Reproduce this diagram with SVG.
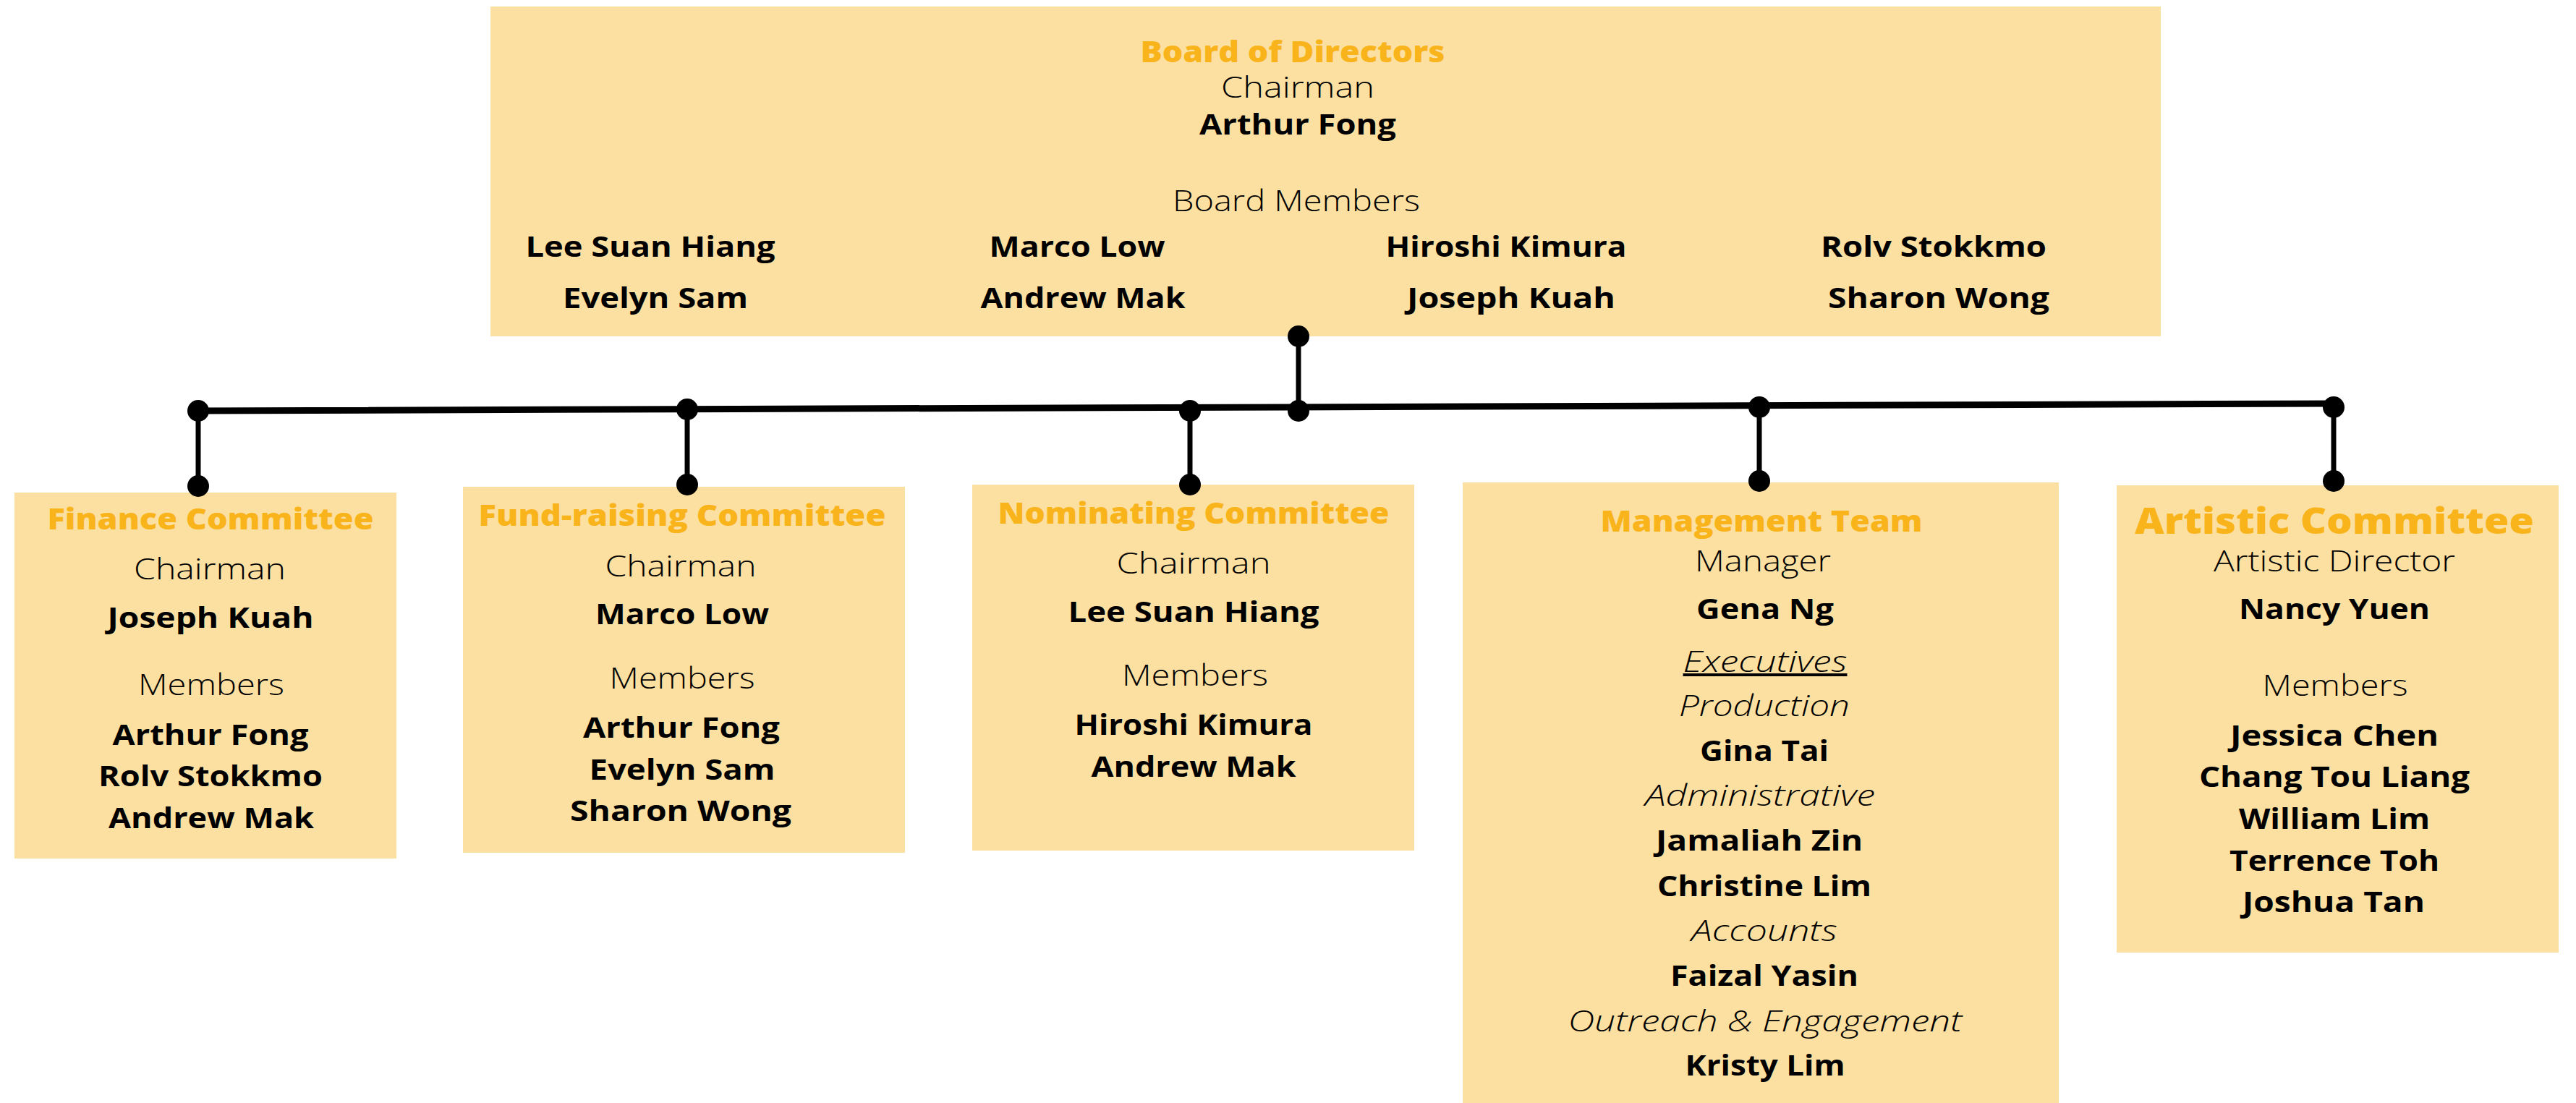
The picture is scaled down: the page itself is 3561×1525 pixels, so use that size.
<svg xmlns="http://www.w3.org/2000/svg" width="3561" height="1525" viewBox="0 0 3561 1525">
<style>
.bg{fill:#ffffff}
.box{fill:#FCE0A1}
text{font-family:"Open Sans","Liberation Sans",sans-serif;text-anchor:middle;font-size:40px;fill:#000}
.h{font-weight:800;fill:#F9B31B}
.h2{font-weight:800;fill:#F9B31B;font-size:49px}
.n{font-weight:700}
.l{font-weight:300}
.i{font-weight:300;font-style:italic}
.u{text-decoration:underline}
.hl{stroke:#000;stroke-width:9;fill:none;stroke-linecap:round}
.vl{stroke:#000;stroke-width:7;fill:none}
.dot{fill:#000}
</style>
<rect class="bg" x="0" y="0" width="3561" height="1525"/>

<g id="connectors">
  <line class="hl" x1="274" y1="568" x2="3226" y2="558"/>
  <line class="vl" x1="1795" y1="465" x2="1795" y2="566"/>
  <line class="vl" x1="274" y1="568" x2="274" y2="672"/>
  <line class="vl" x1="950" y1="566" x2="950" y2="670"/>
  <line class="vl" x1="1645" y1="566" x2="1645" y2="670"/>
  <line class="vl" x1="2432" y1="562" x2="2432" y2="665"/>
  <line class="vl" x1="3226" y1="560" x2="3226" y2="665"/>
</g>

<g id="board">
  <rect class="box" x="678" y="9" width="2309" height="456"/>
  <text class="h" x="1787" y="86" textLength="421" lengthAdjust="spacingAndGlyphs">Board of Directors</text>
  <text class="l" x="1794" y="135" textLength="212" lengthAdjust="spacingAndGlyphs">Chairman</text>
  <text class="n" x="1794" y="186" textLength="272" lengthAdjust="spacingAndGlyphs">Arthur Fong</text>
  <text class="l" x="1792" y="292" textLength="342" lengthAdjust="spacingAndGlyphs">Board Members</text>
  <text class="n" x="899" y="355" textLength="345" lengthAdjust="spacingAndGlyphs">Lee Suan Hiang</text>
  <text class="n" x="1489" y="355" textLength="243" lengthAdjust="spacingAndGlyphs">Marco Low</text>
  <text class="n" x="2082" y="355" textLength="333" lengthAdjust="spacingAndGlyphs">Hiroshi Kimura</text>
  <text class="n" x="2673" y="355" textLength="312" lengthAdjust="spacingAndGlyphs">Rolv Stokkmo</text>
  <text class="n" x="906" y="426" textLength="256" lengthAdjust="spacingAndGlyphs">Evelyn Sam</text>
  <text class="n" x="1497" y="426" textLength="283" lengthAdjust="spacingAndGlyphs">Andrew Mak</text>
  <text class="n" x="2089" y="426" textLength="288" lengthAdjust="spacingAndGlyphs">Joseph Kuah</text>
  <text class="n" x="2680" y="426" textLength="306" lengthAdjust="spacingAndGlyphs">Sharon Wong</text>
</g>

<g id="finance">
  <rect class="box" x="20" y="681" width="528" height="506"/>
  <text class="h" x="291" y="732" textLength="451" lengthAdjust="spacingAndGlyphs">Finance Committee</text>
  <text class="l" x="290" y="801" textLength="210" lengthAdjust="spacingAndGlyphs">Chairman</text>
  <text class="n" x="291" y="868" textLength="285" lengthAdjust="spacingAndGlyphs">Joseph Kuah</text>
  <text class="l" x="292" y="961" textLength="202" lengthAdjust="spacingAndGlyphs">Members</text>
  <text class="n" x="291" y="1030" textLength="271" lengthAdjust="spacingAndGlyphs">Arthur Fong</text>
  <text class="n" x="291" y="1087" textLength="310" lengthAdjust="spacingAndGlyphs">Rolv Stokkmo</text>
  <text class="n" x="292" y="1145" textLength="284" lengthAdjust="spacingAndGlyphs">Andrew Mak</text>
</g>

<g id="fundraising">
  <rect class="box" x="640" y="673" width="611" height="506"/>
  <text class="h" x="943" y="727" textLength="563" lengthAdjust="spacingAndGlyphs">Fund-raising Committee</text>
  <text class="l" x="941" y="797" textLength="209" lengthAdjust="spacingAndGlyphs">Chairman</text>
  <text class="n" x="943" y="863" textLength="240" lengthAdjust="spacingAndGlyphs">Marco Low</text>
  <text class="l" x="943" y="952" textLength="201" lengthAdjust="spacingAndGlyphs">Members</text>
  <text class="n" x="942" y="1020" textLength="272" lengthAdjust="spacingAndGlyphs">Arthur Fong</text>
  <text class="n" x="943" y="1078" textLength="257" lengthAdjust="spacingAndGlyphs">Evelyn Sam</text>
  <text class="n" x="941" y="1135" textLength="306" lengthAdjust="spacingAndGlyphs">Sharon Wong</text>
</g>

<g id="nominating">
  <rect class="box" x="1344" y="670" width="611" height="506"/>
  <text class="h" x="1650" y="724" textLength="541" lengthAdjust="spacingAndGlyphs">Nominating Committee</text>
  <text class="l" x="1650" y="793" textLength="213" lengthAdjust="spacingAndGlyphs">Chairman</text>
  <text class="n" x="1650" y="860" textLength="347" lengthAdjust="spacingAndGlyphs">Lee Suan Hiang</text>
  <text class="l" x="1652" y="948" textLength="202" lengthAdjust="spacingAndGlyphs">Members</text>
  <text class="n" x="1650" y="1016" textLength="329" lengthAdjust="spacingAndGlyphs">Hiroshi Kimura</text>
  <text class="n" x="1650" y="1074" textLength="283" lengthAdjust="spacingAndGlyphs">Andrew Mak</text>
</g>

<g id="management">
  <rect class="box" x="2022" y="667" width="824" height="858"/>
  <text class="h" x="2435" y="735" textLength="445" lengthAdjust="spacingAndGlyphs">Management Team</text>
  <text class="l" x="2437" y="790" textLength="188" lengthAdjust="spacingAndGlyphs">Manager</text>
  <text class="n" x="2440" y="856" textLength="190" lengthAdjust="spacingAndGlyphs">Gena Ng</text>
  <text class="i u" x="2440" y="929" textLength="227" lengthAdjust="spacingAndGlyphs">Executives</text>
  <text class="i" x="2439" y="990" textLength="236" lengthAdjust="spacingAndGlyphs">Production</text>
  <text class="n" x="2439" y="1052" textLength="178" lengthAdjust="spacingAndGlyphs">Gina Tai</text>
  <text class="i" x="2433" y="1114" textLength="318" lengthAdjust="spacingAndGlyphs">Administrative</text>
  <text class="n" x="2432" y="1176" textLength="286" lengthAdjust="spacingAndGlyphs">Jamaliah Zin</text>
  <text class="n" x="2439" y="1239" textLength="296" lengthAdjust="spacingAndGlyphs">Christine Lim</text>
  <text class="i" x="2439" y="1301" textLength="202" lengthAdjust="spacingAndGlyphs">Accounts</text>
  <text class="n" x="2439" y="1363" textLength="260" lengthAdjust="spacingAndGlyphs">Faizal Yasin</text>
  <text class="i" x="2440" y="1426" textLength="545" lengthAdjust="spacingAndGlyphs">Outreach &amp; Engagement</text>
  <text class="n" x="2440" y="1487" textLength="221" lengthAdjust="spacingAndGlyphs">Kristy Lim</text>
</g>

<g id="artistic">
  <rect class="box" x="2926" y="671" width="611" height="646"/>
  <text class="h2" x="3227" y="738" textLength="552" lengthAdjust="spacingAndGlyphs">Artistic Committee</text>
  <text class="l" x="3227" y="790" textLength="334" lengthAdjust="spacingAndGlyphs">Artistic Director</text>
  <text class="n" x="3227" y="856" textLength="264" lengthAdjust="spacingAndGlyphs">Nancy Yuen</text>
  <text class="l" x="3228" y="962" textLength="201" lengthAdjust="spacingAndGlyphs">Members</text>
  <text class="n" x="3227" y="1031" textLength="288" lengthAdjust="spacingAndGlyphs">Jessica Chen</text>
  <text class="n" x="3227" y="1088" textLength="374" lengthAdjust="spacingAndGlyphs">Chang Tou Liang</text>
  <text class="n" x="3227" y="1146" textLength="264" lengthAdjust="spacingAndGlyphs">William Lim</text>
  <text class="n" x="3227" y="1204" textLength="290" lengthAdjust="spacingAndGlyphs">Terrence Toh</text>
  <text class="n" x="3226" y="1261" textLength="252" lengthAdjust="spacingAndGlyphs">Joshua Tan</text>
</g>

<g id="dots">
  <circle class="dot" cx="1795" cy="465" r="15"/>
  <circle class="dot" cx="1795" cy="568" r="15"/>
  <circle class="dot" cx="274" cy="568" r="15"/>
  <circle class="dot" cx="274" cy="672" r="15"/>
  <circle class="dot" cx="950" cy="566" r="15"/>
  <circle class="dot" cx="950" cy="670" r="15"/>
  <circle class="dot" cx="1645" cy="568" r="15"/>
  <circle class="dot" cx="1645" cy="670" r="15"/>
  <circle class="dot" cx="2432" cy="563" r="15"/>
  <circle class="dot" cx="2432" cy="665" r="15"/>
  <circle class="dot" cx="3226" cy="563" r="15"/>
  <circle class="dot" cx="3226" cy="665" r="15"/>
</g>
</svg>
